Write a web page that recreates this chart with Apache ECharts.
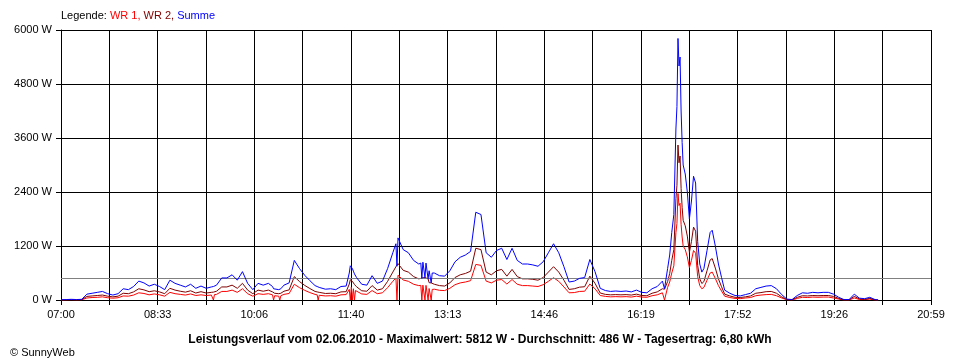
<!DOCTYPE html>
<html><head><meta charset="utf-8">
<script src="https://cdn.jsdelivr.net/npm/echarts@6/dist/echarts.min.js"></script>
<style>html,body{margin:0;padding:0;background:#fff}#c{width:960px;height:360px}</style>
</head><body><div id="c"></div>
<script>
// ---- tick labels ----
const tickLabels = ['07:00','08:33','10:06','11:40','13:13','14:46','16:19','17:52','19:26','20:59'];
const yMax = 6000;
const yStep = 1200;
const average = 486;

// ---- sample times ----
const times = [
 '07:00','07:05','07:10','07:15','07:20','07:25','07:30','07:35','07:40','07:45','07:50','07:55',
 '08:00','08:05','08:10','08:15','08:20','08:25','08:30','08:35','08:40','08:45','08:50','08:55',
 '09:00','09:05','09:10','09:15','09:20','09:25','09:26','09:27','09:28','09:30','09:35','09:40','09:45','09:50','09:55',
 '10:00','10:05','10:10','10:15','10:20','10:24','10:25','10:26','10:30','10:31','10:32','10:35','10:40','10:45','10:50','10:55',
 '11:00','11:05','11:07','11:08','11:09','11:10','11:15','11:20','11:25','11:30','11:35','11:38','11:39','11:40','11:41','11:42','11:43','11:44','11:45','11:50','11:55',
 '12:00','12:05','12:10','12:15','12:20','12:23','12:24','12:25','12:30','12:35','12:40','12:45','12:47','12:48','12:49','12:50','12:51','12:52','12:54','12:55','12:57','12:58',
 '13:00','13:05','13:10','13:15','13:20','13:25','13:30','13:35','13:40','13:45','13:50','13:55',
 '14:00','14:05','14:10','14:15','14:20','14:25','14:30','14:35','14:40','14:45','14:50','14:55',
 '15:00','15:05','15:10','15:15','15:20','15:25','15:30','15:35','15:40','15:45','15:50','15:55',
 '16:00','16:05','16:10','16:15','16:20','16:25','16:30','16:35','16:40','16:42','16:45','16:47','16:49','16:51','16:53','16:54','16:55','16:56','16:57','16:58','16:59',
 '17:00','17:02','17:04','17:06','17:08','17:10','17:12','17:14','17:16','17:18','17:20','17:23','17:26','17:28','17:31','17:34','17:37','17:40','17:45','17:50','17:55',
 '18:00','18:05','18:10','18:15','18:20','18:25','18:30','18:35','18:40','18:45','18:50','18:55',
 '19:00','19:05','19:10','19:15','19:20','19:25','19:30','19:35','19:40','19:45','19:50','19:55',
 '20:00','20:05','20:08'
];

// ---- WR 1 (W) ----
const wr1 = [
 0,0,5,0,5,45,55,60,70,50,40,50,
 90,85,110,160,145,115,135,115,85,170,140,125,
 110,135,100,115,100,110,115,0,120,125,190,190,220,170,250,
 140,85,140,125,140,115,0,95,85,0,95,125,145,350,275,215,
 165,125,115,0,105,105,90,95,85,115,120,235,0,290,0,250,0,210,195,135,125,
 210,140,160,275,415,490,0,550,445,415,350,320,325,0,330,340,0,325,0,255,0,235,
 240,215,210,260,340,380,400,430,790,770,420,380,
 440,455,355,455,350,320,320,310,300,340,415,495,
 415,290,160,165,190,195,355,250,100,80,70,75,
 70,75,65,85,65,60,95,115,160,0,280,400,600,760,1500,1700,2368,2100,2150,1680,1400,
 1200,1120,960,720,880,1100,1040,520,320,250,280,440,600,620,480,320,200,85,55,35,30,
 45,55,95,110,120,125,95,45,5,0,35,60,
 55,65,60,65,65,45,20,0,0,45,10,10,
 20,0,0
];

// ---- WR 2 (W) ----
const wr2 = [
 0,5,10,5,10,80,90,100,110,85,70,85,
 150,140,180,250,225,185,205,180,140,260,220,195,
 175,205,155,185,155,170,175,175,180,195,290,290,330,260,370,
 220,140,220,195,220,180,150,150,140,145,150,195,225,520,410,325,
 255,190,180,175,170,170,145,150,140,180,185,355,450,440,415,380,345,320,295,205,195,
 320,220,250,415,620,740,740,810,660,620,520,470,480,480,495,505,500,480,470,385,380,355,
 350,320,310,380,500,560,590,640,1150,1120,620,560,
 650,680,530,680,520,470,470,460,440,500,620,740,
 620,440,235,250,285,295,530,370,155,125,115,120,
 115,120,110,130,100,95,150,180,250,240,410,590,880,1120,2250,2550,3444,3050,3200,2480,2060,
 1770,1650,1420,1060,1300,1620,1530,770,470,365,410,650,890,920,710,470,295,130,90,60,55,
 70,90,150,165,185,190,150,70,10,5,60,95,
 90,100,95,100,100,80,35,5,5,80,25,15,
 35,5,0
];

// ---- Summe (W) ----
const summe = [
 5,10,15,10,15,130,150,170,190,140,110,140,
 250,230,300,420,380,310,350,300,230,440,370,330,
 290,350,260,310,260,290,300,300,310,330,490,490,560,440,630,
 370,230,370,330,370,300,250,250,230,240,250,330,380,880,700,550,
 430,320,300,290,280,280,240,250,230,300,310,600,760,740,700,640,580,540,500,350,330,
 540,370,420,700,1050,1250,750,1380,1120,1050,880,800,820,480,840,860,500,820,470,650,380,600,
 600,540,530,650,850,950,1000,1080,1950,1900,1050,950,
 1100,1150,900,1150,880,800,800,780,750,850,1050,1250,
 1050,740,400,420,480,500,900,630,260,210,190,200,
 190,200,180,220,170,160,250,300,420,250,700,1000,1500,1900,3800,4300,5812,5200,5400,4200,3500,
 3000,2800,2400,1800,2200,2750,2600,1300,800,620,700,1100,1500,1550,1200,800,500,220,150,100,90,
 120,150,250,280,310,320,250,120,20,10,100,160,
 150,170,160,170,170,130,60,10,10,130,40,30,
 60,10,0
];

const titleText = 'Leistungsverlauf vom 02.06.2010 - Maximalwert: 5812 W - Durchschnitt: 486 W - Tagesertrag: 6,80 kWh';

function toMin(t){ const p = t.split(':'); return (+p[0])*60 + (+p[1]); }
const startMin = toMin(tickLabels[0]);
const span = toMin(tickLabels[tickLabels.length-1]) - startMin;
const step = span / 18;
function pairs(vals){ return times.map((t,i)=>[toMin(t)-startMin, vals[i]]); }

const FONT = "'Liberation Sans', Arial, sans-serif";
const chart = echarts.init(document.getElementById('c'), null, {renderer:'canvas'});
chart.setOption({
  animation:false,
  backgroundColor:'#ffffff',
  textStyle:{fontFamily:FONT},
  title:[
    {text:titleText, left:'center', top:329, textStyle:{fontFamily:FONT, fontSize:12, fontWeight:'bold', color:'#000'}},
    {text:'\u00A9 SunnyWeb', left:5, top:342, textStyle:{fontFamily:FONT, fontSize:11, fontWeight:'normal', color:'#000'}}
  ],
  graphic:[{
    type:'text', left:61, top:10,
    style:{
      text:'{k|Legende: }{a|WR 1, }{b|WR 2, }{c|Summe}',
      font:'11px ' + FONT,
      rich:{
        k:{fill:'#000', fontSize:11, fontFamily:FONT},
        a:{fill:'#ff0000', fontSize:11, fontFamily:FONT},
        b:{fill:'#800000', fontSize:11, fontFamily:FONT},
        c:{fill:'#0000ff', fontSize:11, fontFamily:FONT}
      }
    }
  }],
  grid:{left:61, right:29, top:30, bottom:60, containLabel:false},
  xAxis:{
    type:'value', min:0, max:span, interval:step,
    axisLine:{show:true, lineStyle:{color:'#000', width:1}},
    axisTick:{show:true, length:5, lineStyle:{color:'#000'}},
    axisLabel:{color:'#000', fontSize:11, fontFamily:FONT, margin:9, showMinLabel:true, showMaxLabel:true,
      formatter:function(v){ const i = Math.round(v/step); return (i%2===0) ? (tickLabels[i/2]||'') : ''; }},
    splitLine:{show:true, lineStyle:{color:'#000', width:1}}
  },
  yAxis:{
    type:'value', min:0, max:yMax, interval:yStep,
    axisLine:{show:true, lineStyle:{color:'#000', width:1}},
    axisTick:{show:true, length:5, lineStyle:{color:'#000'}},
    axisLabel:{color:'#000', fontSize:11, fontFamily:FONT, margin:9,
      formatter:function(v){ return String(v) + ' W'; }},
    splitLine:{show:true, lineStyle:{color:'#000', width:1}}
  },
  series:[
    {name:'WR 1', type:'line', data:pairs(wr1), showSymbol:false, symbol:'none', color:'#ff0000',
     lineStyle:{color:'#ff0000', width:1}, z:3,
     markLine:{silent:true, symbol:['none','none'], label:{show:false}, animation:false,
       lineStyle:{color:'#808080', width:1, type:'solid'}, data:[{yAxis:average}]}},
    {name:'WR 2', type:'line', data:pairs(wr2), showSymbol:false, symbol:'none', color:'#800000',
     lineStyle:{color:'#800000', width:1}, z:4},
    {name:'Summe', type:'line', data:pairs(summe), showSymbol:false, symbol:'none', color:'#0000ff',
     lineStyle:{color:'#0000ff', width:1}, z:5}
  ]
});
</script></body></html>
